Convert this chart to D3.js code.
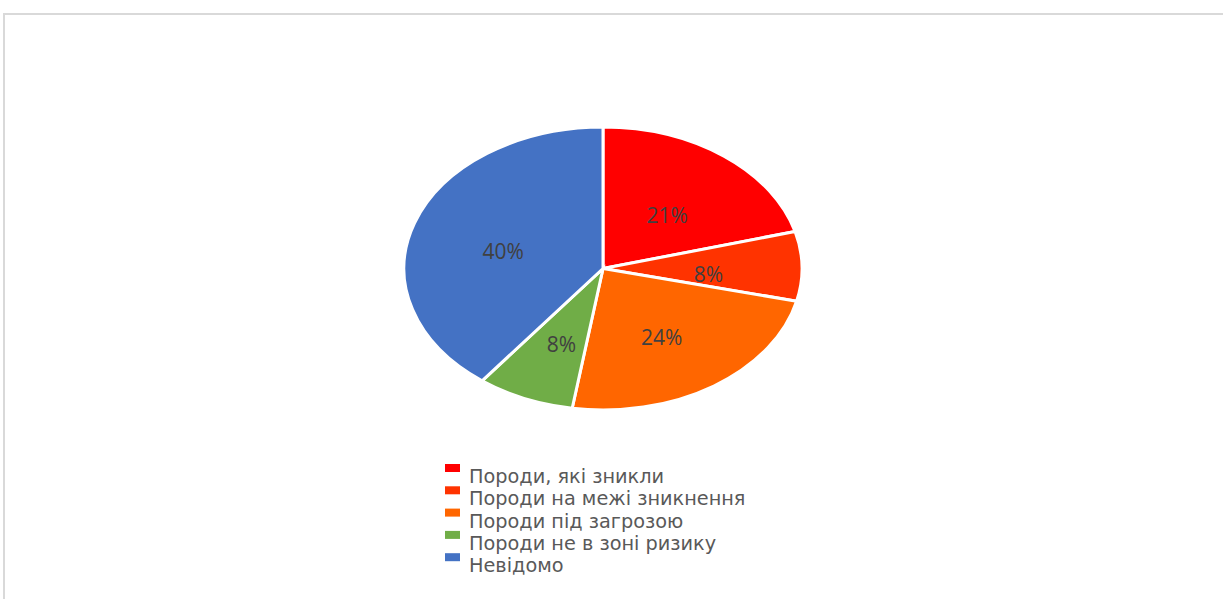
<!DOCTYPE html>
<meta charset="utf-8">
<head>
  <meta charset="utf-8">
  <script src="https://d3js.org/d3.v7.min.js"></script>
  <style>
    body { margin: 0; background: #fff; }
    text { font-family: "Open Sans", "Noto Sans", sans-serif; }
    .legend text { font-family: "DejaVu Sans", sans-serif; }
  </style>
</head>
<body>
  <svg width="1223" height="599"></svg>
  <script>
    // data
    var categories = ["Породи, які зникли", "Породи на межі зникнення", "Породи під загрозою", "Породи не в зоні ризику", "Невідомо"];
    var values = [21, 8, 24, 8, 40];
    var colors = ["#ff0000", "#ff3300", "#ff6600", "#70ad47", "#4472c4"];

    var svg = d3.select("svg");

    // chart area border
    svg.append("rect")
      .attr("x", 4).attr("y", 14)
      .attr("width", 1260).attr("height", 640)
      .attr("fill", "#fff")
      .attr("stroke", "#d9d9d9")
      .attr("stroke-width", 2);

    var cx = 603, cy = 268.5, rx = 199, ry = 141.5;
    var total = d3.sum(values);

    var pie = d3.pie().sort(null).value(function(d) { return d; });
    var arcs = pie(values);
    var arc = d3.arc().innerRadius(0).outerRadius(rx);
    var labelArc = d3.arc().innerRadius(0).outerRadius(rx * 1.06);

    // pie is squashed vertically into an ellipse
    var g = svg.append("g")
      .attr("transform", "translate(" + cx + "," + cy + ") scale(1," + (ry / rx) + ")");

    g.selectAll("path")
      .data(arcs)
      .enter()
      .append("path")
      .attr("d", arc)
      .attr("fill", function(d, i) { return colors[i]; })
      .attr("stroke", "#fff")
      .attr("stroke-width", 3)
      .attr("vector-effect", "non-scaling-stroke");

    // labels (not scaled, only their position is squashed)
    svg.append("g")
      .selectAll("text")
      .data(arcs)
      .enter()
      .append("text")
      .attr("x", function(d) { return cx + labelArc.centroid(d)[0]; })
      .attr("y", function(d) { return cy + labelArc.centroid(d)[1] * ry / rx + 7; })
      .attr("dy", "0.35em")
      .attr("text-anchor", "middle")
      .attr("fill", "#404040")
      .style("font-size", "21px")
      .text(function(d) { return Math.round(d.value / total * 100) + "%"; });

    // legend
    var legend = svg.append("g").attr("class", "legend").attr("transform", "translate(445,483)");
    var row = legend.selectAll("g")
      .data(categories)
      .enter()
      .append("g")
      .attr("transform", function(d, i) { return "translate(0," + (i * 22.3) + ")"; });
    row.append("rect")
      .attr("x", 0).attr("y", -19)
      .attr("width", 15).attr("height", 8)
      .attr("fill", function(d, i) { return colors[i]; });
    row.append("text")
      .attr("x", 24).attr("y", 0)
      .attr("fill", "#595959")
      .style("font-size", "19.3px")
      .text(function(d) { return d; });
  </script>
</body>
